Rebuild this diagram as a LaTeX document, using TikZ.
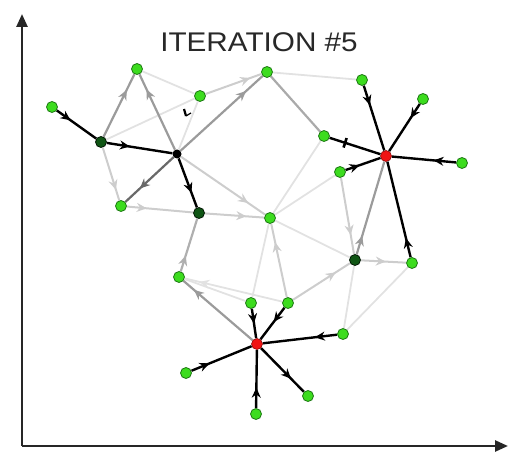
\documentclass[tikz,border=0pt]{standalone}
\usepackage{fontspec}
\setmainfont{Liberation Sans}
\usetikzlibrary{arrows.meta,decorations.markings,backgrounds}
\definecolor{ngreen}{RGB}{60,220,30}
\definecolor{ngreenline}{RGB}{30,120,20}
\definecolor{dgreen}{RGB}{15,85,20}
\definecolor{nred}{RGB}{240,20,20}
\definecolor{dgrey}{RGB}{105,105,105}
\definecolor{mgrey}{RGB}{155,155,155}
\definecolor{lgrey}{RGB}{205,205,205}
\definecolor{fgrey}{RGB}{226,226,226}
\definecolor{titlegrey}{RGB}{40,40,40}
\tikzset{
  gn/.style={circle,minimum size=11pt,inner sep=0pt,fill=ngreen,draw=ngreenline,line width=0.8pt},
  dn/.style={circle,minimum size=11pt,inner sep=0pt,fill=dgreen,draw=black!70!dgreen,line width=0.8pt},
  rn/.style={circle,minimum size=11pt,inner sep=0pt,fill=nred,draw=nred!60!black,line width=0.6pt},
  kn/.style={circle,minimum size=9pt,inner sep=0pt,fill=black},
  ar/.style={postaction={decorate,decoration={markings,mark=at position #1 with {\arrow{Stealth[length=10pt,width=9pt]}}}}},
  arbar/.style={postaction={decorate,decoration={markings,mark=at position #1 with {\arrow{Bar[width=10pt,line width=2.6pt]}}}}},
  blk/.style={draw=black,line width=2.4pt},
  dg/.style={draw=dgrey,line width=2.2pt},
  mg/.style={draw=mgrey,line width=2.2pt},
  lg/.style={draw=lgrey,line width=2pt},
  fg/.style={draw=fgrey,line width=1.8pt},
  axis/.style={draw=black!85,line width=2.6pt,-{Triangle[length=13pt,width=11pt]}}
}
\begin{document}
\begin{tikzpicture}[x=1pt,y=-1pt]
\useasboundingbox (0,0) rectangle (509,457);
% axes
\coordinate (origin) at (22,446);
\coordinate (ytop) at (22,14);
\coordinate (xend) at (508,446);
\draw[axis] (origin) -- (ytop);
\draw[axis] (origin) -- (xend);
% title
\node[text=titlegrey,font=\fontsize{27}{30}\selectfont,xscale=1.1] (title) at (259,42) {ITERATION \#5};
% nodes
\node[gn] (A) at (52,107) {};
\node[gn] (B) at (137,69) {};
\node[gn] (C) at (200,96) {};
\node[gn] (D) at (267,72) {};
\node[gn] (E) at (324,136) {};
\node[gn] (F) at (340,172) {};
\node[gn] (G) at (362,80) {};
\node[gn] (H) at (423,99) {};
\node[gn] (I) at (462,163) {};
\node[gn] (J) at (121,206) {};
\node[gn] (K) at (270,218) {};
\node[gn] (L) at (179,277) {};
\node[gn] (M) at (251,303) {};
\node[gn] (N) at (288,303) {};
\node[gn] (O) at (343,334) {};
\node[gn] (P) at (186,373) {};
\node[gn] (Q) at (256,414) {};
\node[gn] (R) at (308,396) {};
\node[gn] (S) at (412,263) {};
\node[dn] (d1) at (101,142) {};
\node[dn] (d2) at (199,213) {};
\node[dn] (d3) at (355,260) {};
\node[kn] (bk) at (177,154) {};
\node[rn] (r1) at (386,156) {};
\node[rn] (r2) at (257,344) {};
\begin{pgfonlayer}{background}
% faint edges
\draw[fg] (B) -- (C);
\draw[fg] (d1) -- (C);
\draw[fg] (D) -- (G);
\draw[fg] (E) -- (K);
\draw[fg] (K) -- (F);
\draw[fg] (d3) -- (O);
\draw[fg] (O) -- (S);
\draw[fg] (M) -- (K);
\draw[fg] (K) -- (d3);
\draw[fg] (L) -- (M);
\draw[fg] (bk) -- (C);
% light edges
\draw[lg,ar=0.8] (C) -- (D);
\draw[lg,ar=0.8] (d1) -- (J);
\draw[lg,ar=0.3] (J) -- (d2);
\draw[lg,ar=0.7] (d2) -- (K);
\draw[lg,ar=0.8] (bk) -- (K);
\draw[lg,ar=0.75] (N) -- (d3);
\draw[lg,ar=0.55] (d3) -- (S);
\draw[lg,ar=0.75] (N) -- (K);
\draw[lg,ar=0.75] (F) -- (d3);
\draw[fg,ar=0.85] (N) -- (L);
% medium edges
\draw[mg,ar=0.8] (bk) -- (D);
\draw[mg,ar=0.75] (d1) -- (B);
\draw[mg,ar=0.8] (bk) -- (B);
\draw[mg,draw=mgrey!80,ar=0.3] (L) -- (d2);
\draw[mg,ar=0.85] (r2) -- (L);
\draw[mg,ar=0.2] (d3) -- (r1);
\draw[mg,draw=mgrey!85] (D) -- (E);
\draw[dg,ar=0.7] (bk) -- (J);
% black edges
\draw[blk,ar=0.35] (A) -- (d1);
\draw[blk,ar=0.35] (d1) -- (bk);
\draw[blk,ar=0.7] (bk) -- (d2);
\draw[blk,ar=0.3] (G) -- (r1);
\draw[blk,ar=0.3] (H) -- (r1);
\draw[blk,ar=0.35] (I) -- (r1);
\draw[blk,ar=0.4] (F) -- (r1);
\draw[blk,arbar=0.72] (r1) -- (E);
\draw[blk,ar=0.2] (S) -- (r1);
\draw[blk,ar=0.5] (M) -- (r2);
\draw[blk,ar=0.45] (N) -- (r2);
\draw[blk,ar=0.3] (O) -- (r2);
\draw[blk,ar=0.3] (P) -- (r2);
\draw[blk,ar=0.35] (Q) -- (r2);
\draw[blk,ar=0.7] (r2) -- (R);
% small black mark near C
\coordinate (m1) at (184,109);
\coordinate (m2) at (186,116);
\coordinate (m3) at (191,113);
\draw[black,line width=2.2pt] (m1) -- (m2);
\draw[black,line width=1.2pt] (m2) -- (m3);
\end{pgfonlayer}
\end{tikzpicture}
\end{document}
